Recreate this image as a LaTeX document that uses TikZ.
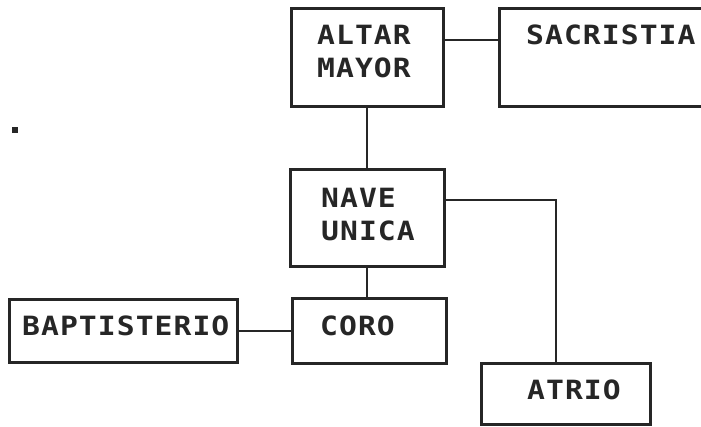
\documentclass[tikz,border=0pt]{standalone}
\usepackage{fontspec}
\newfontfamily\dotfont[LetterSpace=4,FakeStretch=1.12]{DejaVu Sans Mono Bold}
\tikzset{
  room/.style={draw=black!85, line width=2.6pt, rectangle, inner sep=0pt, anchor=north west},
  lbl/.style={inner sep=0pt, anchor=north west, align=left, text=black!85,
    font=\dotfont\fontsize{26.5}{32.5}\selectfont},
  link/.style={draw=black!85, line width=2.6pt}
}
\begin{document}
\begin{tikzpicture}[x=1pt,y=-1pt]
\useasboundingbox (0,0) rectangle (701,427);
\clip (0,0) rectangle (701,427);
% boxes
\node[room, minimum width=152pt, minimum height=98pt] (altar) at (290,7) {};
\node[room, minimum width=210pt, minimum height=98pt] (sacristia) at (498,7) {};
\node[room, minimum width=154pt, minimum height=97pt] (nave) at (289,168) {};
\node[room, minimum width=154pt, minimum height=65pt] (coro) at (291,297) {};
\node[room, minimum width=228pt, minimum height=63pt] (bapt) at (8,298) {};
\node[room, minimum width=169pt, minimum height=61pt] (atrio) at (480,362) {};
% labels
\node[lbl] (taltar) at (317,25) {ALTAR\\MAYOR};
\node[lbl] (tsacr) at (526,25) {SACRISTIA};
\node[lbl] (tnave) at (321,188) {NAVE\\UNICA};
\node[lbl] (tcoro) at (320,316) {CORO};
\node[lbl] (tbapt) at (22,316) {BAPTISTERIO};
\node[lbl] (tatrio) at (527,380) {ATRIO};
% dot
\fill[black!85] (12,127) rectangle (18,133);
% connectors
\coordinate (bend) at (556,200);
\draw[link] (altar.east |- 0,40) -- (sacristia.west |- 0,40);
\draw[link] (altar.south -| 367,0) -- (nave.north -| 367,0);
\draw[link] (nave.south -| 367,0) -- (coro.north -| 367,0);
\draw[link] (bapt.east |- 0,331) -- (coro.west |- 0,331);
\draw[link] (nave.east |- bend) -- (bend) -- (atrio.north -| bend);
\end{tikzpicture}
\end{document}
